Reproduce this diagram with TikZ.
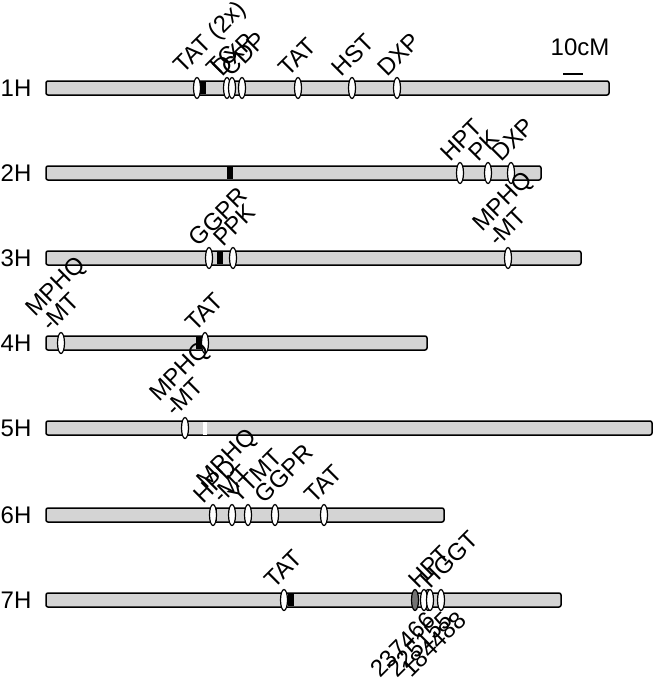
\documentclass[tikz,border=0pt]{standalone}
\usepackage{fontspec}
\setmainfont{Liberation Sans}
\usetikzlibrary{shapes.geometric}
\newcommand\lblfont{\fontsize{24}{19}\selectfont}

\begin{document}
\begin{tikzpicture}[x=1pt,y=-1pt,line width=1.5pt]
  \tikzstyle{chrom}=[draw,fill=black!17,rounded corners=2pt]
  \tikzstyle{marker}=[ellipse,draw,fill=white,minimum width=7pt,minimum height=21pt,inner sep=0pt,line width=1.2pt]
  \tikzstyle{gene}=[rotate=45,anchor=south west,inner sep=0pt,align=left,font=\lblfont]
  \tikzstyle{cname}=[anchor=west,inner sep=0pt,font=\lblfont]
  \useasboundingbox (0,0) rectangle (653,685);

  % chromosomes
  \foreach \n/\y/\e in {1/88/609, 2/173/541, 3/258/581, 4/343/427, 5/428/652, 6/515/444, 7/600/561} {
    \draw[chrom] (46,\y-7) rectangle (\e,\y+7);
    \node[cname] (c\n) at (0,\y) {\n H};
  }
  % centromeres
  \foreach \x/\y in {203/88, 230/173, 220/258, 199/343, 214/515, 291/600}
    \fill (\x-3,\y-6) rectangle (\x+3,\y+6);
  \fill[white] (203,421.5) rectangle (207,434.5);

  % markers and labels
  \foreach \x/\y/\t in {197/88/TAT (2x), 227/88/TC, 232/88/DXP, 242/88/CDP, 298/88/TAT, 352/88/HST, 397/88/DXP,
                        460/173/HPT, 488/173/PK, 511/173/DXP,
                        209/258/GGPR, 233/258/PPK, 508/258/{MPHQ\\-MT},
                        61/343/{MPHQ\\-MT}, 205/343/TAT,
                        185/428/{MPHQ\\-MT},
                        213/515/HPD, 232/515/{MPHQ\\-MT}, 248/515/YTMT, 275/515/GGPR, 324/515/TAT,
                        284/600/TAT, 428/600/HPT, 441/600/HGGT} {
    \node[marker] (m\x-\y) at (\x,\y) {};
    \node[gene] at ([xshift=-10pt,yshift=-2pt]m\x-\y.north) {\t};
  }
  \node[marker,fill=black!55] (s1) at (415,600) {};
  \node[marker] (s2) at (424,600) {};
  \node[marker] (s3) at (430,600) {};
  \node[gene,anchor=north east] at ([xshift=10pt,yshift=2pt]s1.south) {237466};
  \node[gene,anchor=north east] at ([xshift=18pt,yshift=2pt]s2.south) {225155};
  \node[gene,anchor=north east] at ([xshift=26pt,yshift=2pt]s3.south) {184488};

  % scale bar
  \node[font=\lblfont] (scale) at (580,47) {10cM};
  \draw (563,74) -- (583,74);
\end{tikzpicture}
\end{document}
